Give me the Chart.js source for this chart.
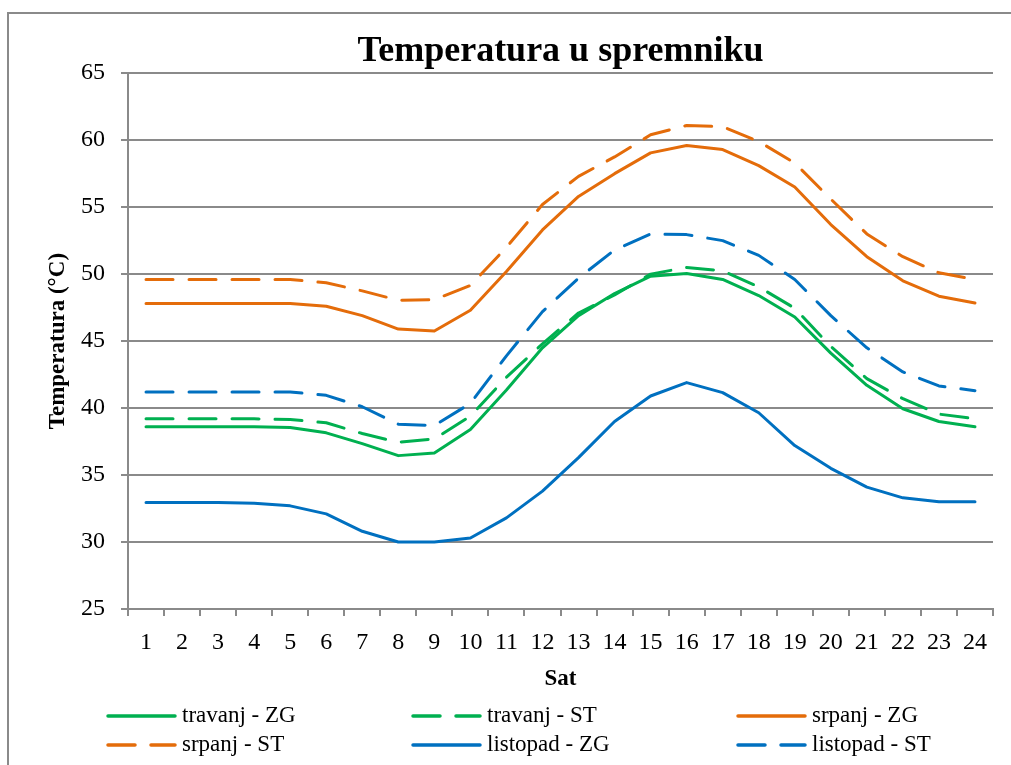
<!DOCTYPE html>
<html>
<head>
<meta charset="utf-8">
<title>Temperatura u spremniku</title>
<script src="https://cdn.jsdelivr.net/npm/chart.js@4.4.1/dist/chart.umd.min.js"></script>
<style>
  html, body { margin: 0; padding: 0; background: #fff; overflow: hidden; }
  #wrap { position: relative; width: 1011px; height: 765px; }
  #frame { position: absolute; left: 7px; top: 12px; width: 1100px; height: 900px; border: 2px solid #8a8a8a; }
  #myChart { position: absolute; left: 0; top: 0; }
</style>
</head>
<body>
<div id="wrap">
  <div id="frame"></div>
  <canvas id="myChart" width="1011" height="765"></canvas>
</div>
<script>
// hours of the day
const hours = ["1","2","3","4","5","6","7","8","9","10","11","12","13","14","15","16","17","18","19","20","21","22","23","24"];

// temperatures (°C)
const travanjZG  = [38.6, 38.6, 38.6, 38.6, 38.55, 38.15, 37.35, 36.45, 36.65, 38.4, 41.35, 44.5, 46.9, 48.55, 49.85, 50.05, 49.6, 48.4, 46.8, 44.1, 41.7, 39.95, 39.0, 38.6];
const travanjST  = [39.2, 39.2, 39.2, 39.2, 39.15, 38.9, 38.1, 37.45, 37.7, 39.4, 42.3, 44.8, 47.1, 48.45, 50.0, 50.5, 50.25, 49.05, 47.45, 44.6, 42.2, 40.7, 39.55, 39.2];
const srpanjZG   = [47.8, 47.8, 47.8, 47.8, 47.8, 47.6, 46.9, 45.9, 45.75, 47.3, 50.2, 53.3, 55.8, 57.5, 59.05, 59.6, 59.3, 58.1, 56.5, 53.7, 51.3, 49.5, 48.35, 47.85];
const srpanjST   = [49.6, 49.6, 49.6, 49.6, 49.6, 49.35, 48.75, 48.05, 48.1, 49.15, 52.0, 55.2, 57.3, 58.75, 60.4, 61.1, 61.0, 59.9, 58.3, 55.6, 53.0, 51.3, 50.1, 49.6];
const listopadZG = [32.95, 32.95, 32.95, 32.9, 32.7, 32.1, 30.8, 30.0, 30.0, 30.3, 31.8, 33.8, 36.3, 39.0, 40.9, 41.9, 41.15, 39.65, 37.2, 35.5, 34.1, 33.3, 33.0, 33.0];
const listopadST = [41.2, 41.2, 41.2, 41.2, 41.2, 40.95, 40.1, 38.8, 38.7, 40.35, 43.9, 47.2, 49.7, 51.8, 53.0, 52.95, 52.5, 51.4, 49.6, 46.9, 44.5, 42.7, 41.65, 41.3];

const seriesNames = ["travanj - ZG", "travanj - ST", "srpanj - ZG", "srpanj - ST", "listopad - ZG", "listopad - ST"];

const green = "#00b050", orange = "#e46c0a", blue = "#0070c0";
const dash = [27, 16];
const serif = "'Liberation Serif', 'Times New Roman', serif";
const gridGray = "#8a8a8a";

function line(label, data, color, dashed) {
  return {
    label: label,
    data: data,
    borderColor: color,
    backgroundColor: color,
    borderWidth: 3,
    borderDash: dashed ? dash : [],
    borderCapStyle: "round",
    borderJoinStyle: "round",
    pointRadius: 0,
    pointHoverRadius: 0,
    tension: 0,
    fill: false
  };
}

// legend laid out in 3 columns x 2 rows like the original
const legendCols = [108, 413, 738];
const legendRows = [716, 745];
const legendGrid = {
  id: "legendGrid",
  afterDraw(chart) {
    const ctx = chart.ctx;
    chart.data.datasets.forEach((ds, i) => {
      const x = legendCols[i % 3];
      const y = legendRows[Math.floor(i / 3)];
      ctx.save();
      ctx.strokeStyle = ds.borderColor;
      ctx.lineWidth = 3.5;
      ctx.lineCap = "round";
      ctx.setLineDash(ds.borderDash);
      ctx.beginPath();
      ctx.moveTo(x, y);
      ctx.lineTo(x + 67, y);
      ctx.stroke();
      ctx.setLineDash([]);
      ctx.fillStyle = "#000";
      ctx.font = "23px " + serif;
      ctx.textBaseline = "middle";
      ctx.fillText(ds.label, x + 74, y);
      ctx.restore();
    });
  }
};

new Chart("myChart", {
  type: "line",
  data: {
    labels: hours,
    datasets: [
      line(seriesNames[0], travanjZG, green, false),
      line(seriesNames[1], travanjST, green, true),
      line(seriesNames[2], srpanjZG, orange, false),
      line(seriesNames[3], srpanjST, orange, true),
      line(seriesNames[4], listopadZG, blue, false),
      line(seriesNames[5], listopadST, blue, true)
    ]
  },
  options: {
    responsive: false,
    animation: false,
    events: [],
    layout: { padding: { left: 8, right: 18, top: 0, bottom: 75 } },
    plugins: {
      legend: { display: false },
      tooltip: { enabled: false },
      title: {
        display: true,
        fullSize: false,
        text: "Temperatura u spremniku",
        color: "#000",
        font: { family: serif, size: 36, weight: "bold" },
        padding: { top: 30, bottom: 0 }
      }
    },
    scales: {
      x: {
        offset: true,
        afterFit(scale) { scale.height = 81; },
        grid: { offset: true, drawOnChartArea: false, drawTicks: true, tickLength: 7, color: gridGray, lineWidth: 2 },
        border: { color: gridGray, width: 2 },
        ticks: { color: "#000", font: { family: serif, size: 24 }, padding: 12, maxRotation: 0, autoSkip: false },
        title: { display: true, text: "Sat", color: "#000", font: { family: serif, size: 23, weight: "bold" }, padding: { top: 0, bottom: -3 } }
      },
      y: {
        min: 25,
        max: 65,
        afterFit(scale) { scale.width = 120; },
        grid: { color: gridGray, lineWidth: 2, drawTicks: true, tickLength: 7 },
        border: { color: gridGray, width: 2 },
        ticks: { stepSize: 5, color: "#000", font: { family: serif, size: 24 }, padding: 16 },
        title: { display: true, text: "Temperatura (°C)", color: "#000", font: { family: serif, size: 23, weight: "bold" }, padding: { top: 36, bottom: 0 } }
      }
    }
  },
  plugins: [legendGrid]
});
</script>
</body>
</html>
